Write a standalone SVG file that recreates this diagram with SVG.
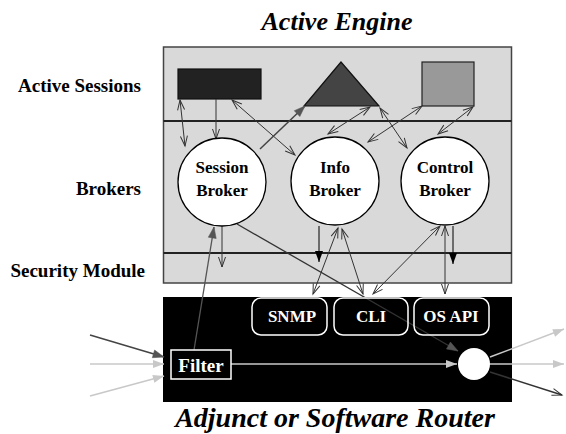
<svg xmlns="http://www.w3.org/2000/svg" width="566" height="434" viewBox="0 0 566 434">
  <style>
    .lbl { font-family: "Liberation Serif", "Times New Roman", serif; font-weight: bold; fill: #000; }
    .side { font-size: 19px; text-anchor: end; }
    .title { font-size: 26px; font-style: italic; text-anchor: middle; }
    .brk { font-size: 17px; text-anchor: middle; }
    .wt { font-family: "Liberation Serif", "Times New Roman", serif; font-weight: bold; fill: #fff; text-anchor: middle; }
    .ln { fill: none; stroke: #333; stroke-width: 1; }
    .dbl { marker-start: url(#open); marker-end: url(#open); }
    .one { marker-end: url(#open); }
    .lt { fill: none; stroke: #c8c8c8; stroke-width: 1.5; marker-end: url(#fillLight); }
    .iface { fill: none; stroke: #fff; stroke-width: 1.5; }
  </style>
  <defs>
    <marker id="open" markerUnits="userSpaceOnUse" markerWidth="14" markerHeight="12" viewBox="-11 -6 12 12" refX="0" refY="0" orient="auto-start-reverse">
      <path d="M-10,-3.5 L0,0 L-10,3.5" fill="none" stroke="#333" stroke-width="1"/>
    </marker>
    <marker id="fillDark" markerUnits="userSpaceOnUse" markerWidth="14" markerHeight="12" viewBox="-11 -6 12 12" refX="0" refY="0" orient="auto">
      <path d="M-11,-4 L0,0 L-11,4 Z" fill="#555" stroke="#555" stroke-width="0.5"/>
    </marker>
    <marker id="fillBlack" markerUnits="userSpaceOnUse" markerWidth="14" markerHeight="12" viewBox="-11 -6 12 12" refX="0" refY="0" orient="auto">
      <path d="M-11,-4 L0,0 L-11,4 Z" fill="#000"/>
    </marker>
    <marker id="fillLight" markerUnits="userSpaceOnUse" markerWidth="14" markerHeight="12" viewBox="-11 -6 12 12" refX="0" refY="0" orient="auto">
      <path d="M-11,-4 L0,0 L-11,4 Z" fill="#c8c8c8"/>
    </marker>
  </defs>

  <!-- titles and layer labels -->
  <text class="lbl title" x="337" y="30">Active Engine</text>
  <text class="lbl title" x="335" y="427" style="font-size:28px">Adjunct or Software Router</text>
  <text class="lbl side" x="141" y="92">Active Sessions</text>
  <text class="lbl side" x="141" y="195">Brokers</text>
  <text class="lbl side" x="145" y="277">Security Module</text>

  <!-- active engine frame with its layers -->
  <g id="engine">
    <rect x="163.5" y="47" width="348" height="236" fill="#d9d9d9" stroke="#444" stroke-width="1.5"/>
    <line x1="163.5" y1="121" x2="511.5" y2="121" stroke="#222" stroke-width="2"/>
    <line x1="163.5" y1="253" x2="511.5" y2="253" stroke="#222" stroke-width="2"/>
  </g>

  <!-- active sessions -->
  <g id="session-rect"><rect x="178" y="69" width="83" height="30" fill="#222" stroke="#111" stroke-width="1.2"/></g>
  <g id="session-triangle"><polygon points="341,62 304,106 379,106" fill="#444" stroke="#111" stroke-width="1.2"/></g>
  <g id="session-square"><rect x="422" y="62" width="52" height="44" fill="#999" stroke="#222" stroke-width="1.2"/></g>

  <!-- router frame -->
  <g id="router">
    <rect x="163" y="297" width="349" height="105" fill="#000"/>
  </g>

  <!-- connectors -->
  <g id="connectors">
    <line class="ln dbl" x1="180" y1="100" x2="185" y2="146"/>
    <line class="ln one" x1="216" y1="99" x2="216" y2="139"/>
    <line class="ln dbl" x1="232" y1="100" x2="295" y2="155"/>
    <line x1="260" y1="149" x2="305" y2="106" stroke="#444" stroke-width="1.5" marker-end="url(#fillDark)"/>
    <line class="ln dbl" x1="370" y1="107" x2="328" y2="134"/>
    <line class="ln dbl" x1="422" y1="106" x2="368" y2="142"/>
    <line class="ln dbl" x1="380" y1="108" x2="407" y2="148"/>
    <line class="ln dbl" x1="473" y1="107" x2="438" y2="134"/>

    <line class="ln one" x1="222" y1="226" x2="222" y2="267"/>
    <line x1="194" y1="350" x2="214" y2="227" stroke="#555" stroke-width="1.3" marker-end="url(#fillDark)"/>
    <line x1="237" y1="224" x2="458" y2="351" stroke="#333" stroke-width="1.3" marker-end="url(#fillDark)"/>
    <line x1="319" y1="226" x2="319" y2="262" stroke="#000" stroke-width="1" marker-end="url(#fillBlack)"/>
    <line class="ln dbl" x1="338" y1="228" x2="313" y2="294"/>
    <line class="ln dbl" x1="342" y1="229" x2="363" y2="294"/>
    <line class="ln dbl" x1="440" y1="226" x2="373" y2="294"/>
    <line class="ln dbl" x1="445" y1="226" x2="445" y2="294"/>
    <line x1="453" y1="226" x2="453" y2="264" stroke="#000" stroke-width="1" marker-end="url(#fillBlack)"/>

    <line x1="90" y1="335" x2="164" y2="357" stroke="#444" stroke-width="1.5" marker-end="url(#fillDark)"/>
    <line class="lt" x1="90" y1="364" x2="164" y2="364"/>
    <line class="lt" x1="90" y1="396" x2="164" y2="376"/>
    <line class="lt" x1="231" y1="364" x2="457" y2="364"/>
    <line class="lt" x1="490" y1="357" x2="564" y2="329"/>
    <line class="lt" x1="490" y1="364" x2="564" y2="364"/>
    <line x1="490" y1="372" x2="562" y2="395" stroke="#333" stroke-width="1.5" marker-end="url(#open)"/>
  </g>

  <!-- brokers -->
  <g id="session-broker">
    <circle cx="222" cy="182" r="44" fill="#fff" stroke="#000" stroke-width="1.3"/>
    <text class="lbl brk" x="222" y="173">Session</text>
    <text class="lbl brk" x="222" y="196">Broker</text>
  </g>
  <g id="info-broker">
    <circle cx="335" cy="181" r="44" fill="#fff" stroke="#000" stroke-width="1.3"/>
    <text class="lbl brk" x="335" y="173">Info</text>
    <text class="lbl brk" x="335" y="196">Broker</text>
  </g>
  <g id="control-broker">
    <circle cx="445" cy="181" r="44" fill="#fff" stroke="#000" stroke-width="1.3"/>
    <text class="lbl brk" x="445" y="173">Control</text>
    <text class="lbl brk" x="445" y="196">Broker</text>
  </g>

  <!-- router interfaces -->
  <g id="snmp">
    <rect class="iface" x="252" y="298" width="75" height="37" rx="9"/>
    <text class="wt" x="292" y="322" font-size="17">SNMP</text>
  </g>
  <g id="cli">
    <rect class="iface" x="334" y="298" width="74" height="37" rx="9"/>
    <text class="wt" x="371" y="322" font-size="17">CLI</text>
  </g>
  <g id="os-api">
    <rect class="iface" x="414" y="298" width="75" height="37" rx="9"/>
    <text class="wt" x="451" y="322" font-size="17">OS API</text>
  </g>
  <g id="filter">
    <rect x="171" y="350" width="60" height="29" fill="#000" stroke="#fff" stroke-width="1.5"/>
    <text class="wt" x="201" y="372" font-size="19">Filter</text>
  </g>
  <g id="forwarder">
    <circle cx="474" cy="364" r="16" fill="#fff"/>
  </g>
</svg>
